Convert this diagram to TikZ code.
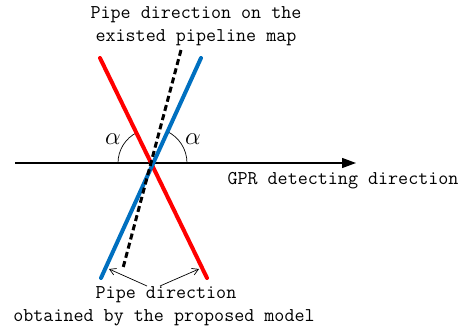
\documentclass[tikz,border=0pt]{standalone}
\usetikzlibrary{arrows.meta,calc}
\begin{document}
\begin{tikzpicture}[x=1pt,y=-1pt,
  lbl/.style={font=\fontsize{19.5}{23}\ttfamily, inner sep=0pt, align=center},
  pipe/.style={line width=4pt, line cap=round},
  ang/.style={line width=0.7pt},
  ptr/.style={line width=0.7pt, -{Straight Barb[length=6pt,width=7pt]}}]
\useasboundingbox (0,0) rectangle (463,334);
\coordinate (o) at (152,163);
\coordinate (axL) at (15,163);
\coordinate (axR) at (356,163);
\coordinate (rT) at (100,58);
\coordinate (rB) at (207,278);
\coordinate (bT) at (201,58);
\coordinate (bB) at (101,278);
\coordinate (dT) at (181,50);
\coordinate (dB) at (123,268);
% axis
\draw[line width=1.3pt, -{Triangle[length=14pt,width=10pt]}] (axL) -- (axR);
% angle arcs
\draw[ang] ($(o)+(-34,0)$) arc[start angle=180, end angle=244, radius=34];
\draw[ang] ($(o)+(35,0)$) arc[start angle=0, end angle=-65, radius=35];
% pipes
\draw[pipe, red] (rT) -- (rB);
\draw[pipe, color={rgb,255:red,0;green,112;blue,192}] (bT) -- (bB);
\draw[line width=3pt, dash pattern=on 6pt off 3.5pt, black] (dT) -- (dB);
% labels
\node[lbl] (top) at (196,26) {Pipe direction on the\\ existed pipeline map};
\node[lbl] (gpr) at (343,181) {GPR detecting direction};
\node[lbl] (bot1) at (166,295) {Pipe direction};
\node[lbl] (bot2) at (164,318) {obtained by the proposed model};
\node[font=\fontsize{30}{30}\selectfont] (a1) at (113,139) {$\alpha$};
\node[font=\fontsize{30}{30}\selectfont] (a2) at (193,139) {$\alpha$};
% pointers
\coordinate (pl) at (109,269);
\coordinate (pr) at (199,269);
\draw[ptr] (147,286) -- (pl);
\draw[ptr] (160,286) -- (pr);
\end{tikzpicture}
\end{document}
